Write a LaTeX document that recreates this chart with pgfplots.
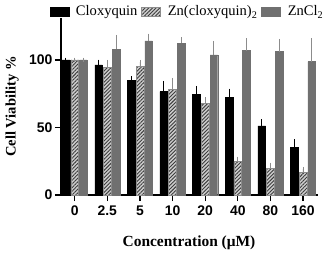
\documentclass[border=0pt]{standalone}
\usepackage{fontspec}
\setmainfont{Liberation Serif}
\setsansfont{Liberation Sans}
\usepackage{pgfplots}
\pgfplotsset{compat=1.18}
\usetikzlibrary{patterns.meta,calc}
\definecolor{zgray}{RGB}{112,112,112}
\definecolor{hatchbg}{RGB}{205,205,205}
\definecolor{hatchln}{RGB}{60,60,60}
\definecolor{errgray}{RGB}{140,140,140}
\newcommand{\lf}{\fontsize{14.6}{15}\selectfont}

\pgfplotstableread{
x y e
0 100 0
1 96.3 2.2
2 84.6 1.5
3 76.5 6.2
4 74.5 4.5
5 72.3 4.7
6 51.2 3.0
7 35.2 4.4
}\cloxy
\pgfplotstableread{
x y e
0 100 0
1 94.3 4.0
2 95.0 3.3
3 78.2 6.7
4 67.9 2.9
5 24.8 1.9
6 19.8 2.5
7 16.8 2.3
}\zncl
\pgfplotstableread{
x y e
0 100 0
1 108.0 8.8
2 114.1 3.7
3 112.4 2.7
4 103.7 8.7
5 106.9 7.4
6 106.2 7.6
7 98.8 15.5
}\zncltwo

\begin{document}
\begin{tikzpicture}
\begin{axis}[
  name=ax, scale only axis, width=257bp, height=177bp,
  xmin=-0.42, xmax=7.46, ymin=0, ymax=131,
  axis lines=left, axis line style={line width=1.3bp,-},
  ybar=1bp, bar width=7.7bp,
  xtick={0,...,7}, xticklabels={0,2.5,5,10,20,40,80,160},
  ytick={0,50,100}, yticklabels={0,50,100},
  tick style={line width=1.3bp, black}, major tick length=6bp, tick align=outside,
  tick label style={font=\sffamily\bfseries\fontsize{14}{14}\selectfont},
  /pgf/number format/assume math mode=true,
  xticklabel style={yshift=-1bp},
  yticklabel style={xshift=1bp},
  xlabel={\textbf{Concentration (μM)}},
  ylabel={\textbf{Cell Viability \%}},
  xlabel style={font=\fontsize{15.5}{16}\selectfont, at={(axis description cs:0.498,-0.268)}, anchor=center},
  ylabel style={font=\fontsize{14.6}{15}\selectfont, at={(axis description cs:-0.19,0.5)}, anchor=center},
  legend style={draw=none, fill=none, at={(axis description cs:0.492,1.036)}, anchor=center,
    legend columns=3, inner sep=0pt,
    /tikz/every odd column/.append style={column sep=5bp},
    /tikz/every even column/.append style={column sep=2bp}},
  legend image code/.code={\draw[#1] (0bp,-4.5bp) rectangle (19bp,4.5bp);},
]
\addplot[fill=black, draw=black,
  error bars/.cd, y dir=plus, y explicit,
  error bar style={black, line width=1bp},
  error mark options={black, line width=1bp, mark size=2.3bp}]
  table[x=x,y=y,y error=e] {\cloxy};
\addplot[draw=errgray, fill=hatchbg,
  postaction={pattern={Lines[angle=45,distance=2.6bp,line width=0.9bp]}, pattern color=hatchln},
  error bars/.cd, y dir=plus, y explicit,
  error bar style={errgray, line width=0.8bp},
  error mark options={errgray, line width=0.8bp, mark size=2.3bp}]
  table[x=x,y=y,y error=e] {\zncl};
\addplot[fill=zgray, draw=zgray,
  error bars/.cd, y dir=plus, y explicit,
  error bar style={errgray, line width=0.8bp},
  error mark options={errgray, line width=0.8bp, mark size=2.3bp}]
  table[x=x,y=y,y error=e] {\zncltwo};
\legend{{\lf Cloxyquin}, {\lf Zn(cloxyquin)\textsubscript{2}}, {\lf ZnCl\textsubscript{2}}}
\end{axis}
\pgfresetboundingbox
\path ($(ax.south west)+(-61bp,-61bp)$) rectangle ($(ax.north east)+(13bp,18bp)$);
\end{tikzpicture}
\end{document}
